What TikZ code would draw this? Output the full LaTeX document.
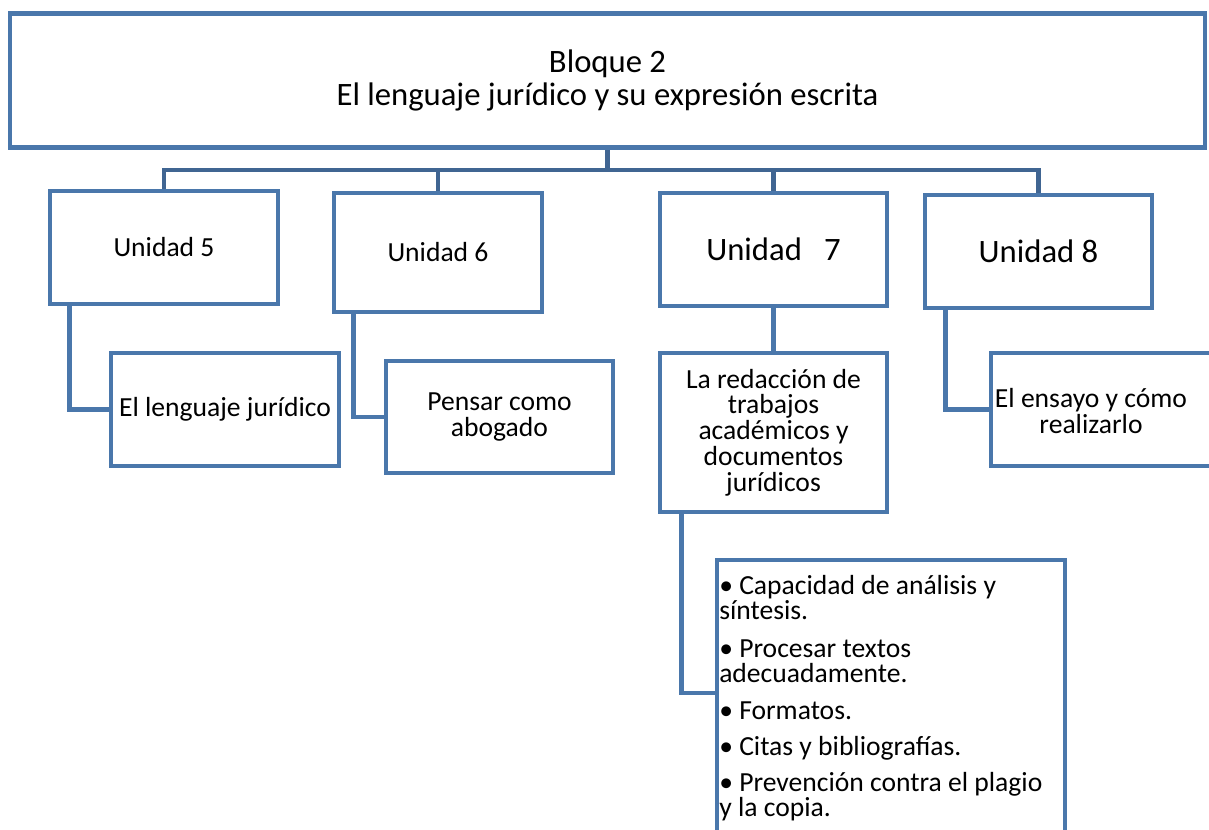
\documentclass[tikz,border=0pt]{standalone}
\usepackage{fontspec}
\setmainfont{Carlito}
\definecolor{boxblue}{RGB}{74,119,171}
\definecolor{busblue}{RGB}{64,101,146}
\newcommand\fsmall{\fontsize{20.7}{19.3}\selectfont\lineskiplimit=-30pt\relax}
\newcommand\fbul{\fontsize{20.7}{18.75}\selectfont\lineskiplimit=-30pt\relax}
\newcommand\fbig{\fontsize{24.5}{24.75}\selectfont\lineskiplimit=-30pt\relax}
\tikzset{
  box/.style={draw=boxblue, line width=3.6pt, fill=white, inner sep=0pt, align=center, font=\fsmall},
  conn/.style={draw=boxblue, line width=3.6pt},
  bus/.style={draw=busblue, line width=3.6pt},
  plain/.style={inner sep=0pt, font=\fsmall}
}
\begin{document}
\begin{tikzpicture}[x=0.75pt,y=-0.75pt]
\path[use as bounding box] (0,0) rectangle (1209,829);
\clip (0,0) rectangle (1209,829);
\coordinate (busy) at (0,170);
\coordinate (bj) at (717,693);
% boxes
\node[box, minimum width=1195*0.75pt, minimum height=134*0.75pt, font=\fbig] (top) at (607.5,80.5) {Bloque 2\\El lenguaje jurídico y su expresión escrita};
\node[box, minimum width=228*0.75pt, minimum height=113*0.75pt] (u5) at (164,247.5) {Unidad 5};
\node[box, minimum width=208*0.75pt, minimum height=119*0.75pt] (u6) at (438,252.5) {Unidad 6};
\node[box, minimum width=227*0.75pt, minimum height=113*0.75pt, font=\fbig] (u7) at (773.5,249.5) {Unidad\ \ \ 7};
\node[box, minimum width=227*0.75pt, minimum height=113*0.75pt, font=\fbig] (u8) at (1038.5,251.5) {Unidad 8};
\node[box, minimum width=228*0.75pt, minimum height=113*0.75pt] (l5) at (225,409.5) {El lenguaje jurídico};
\node[box, minimum width=227*0.75pt, minimum height=112*0.75pt] (l6) at (499.5,417) {Pensar como\\abogado};
\node[box, minimum width=227*0.75pt, minimum height=159*0.75pt] (l7) at (773.5,432.5) {La redacción de\\trabajos\\académicos y\\documentos\\jurídicos};
\node[box, minimum width=228*0.75pt, minimum height=113*0.75pt] (l8) at (1105,409.5) {};
\node[plain, align=center] (l8t) at (1091,411) {El ensayo y cómo\\realizarlo};
\node[box, minimum width=348*0.75pt, minimum height=360*0.75pt] (b) at (891,740) {};
\node[plain, font=\fbul, align=left, anchor=north west] (bt) at (719,575) {• Capacidad de análisis y\\síntesis.\\[9.5pt]• Procesar textos\\adecuadamente.\\[9pt]• Formatos.\\[8.5pt]• Citas y bibliografías.\\[8.5pt]• Prevención contra el plagio\\y la copia.};
% connectors
\draw[bus] (top.south) -- (top.south |- busy);
\draw[bus] (u5.north) |- (u8.north |- busy) -- (u8.north);
\draw[bus] (u6.north) -- (u6.north |- busy);
\draw[bus] (u7.north) -- (u7.north |- busy);
\draw[conn] ([xshift=22*0.75pt]u5.south west) |- (l5.west);
\draw[conn] ([xshift=22*0.75pt]u6.south west) |- (l6.west);
\draw[conn] (u7.south) -- (l7.north);
\draw[conn] ([xshift=23*0.75pt]u8.south west) |- (l8.west);
\draw[conn] ([xshift=24*0.75pt]l7.south west) |- (b.west |- bj);
\end{tikzpicture}
\end{document}
